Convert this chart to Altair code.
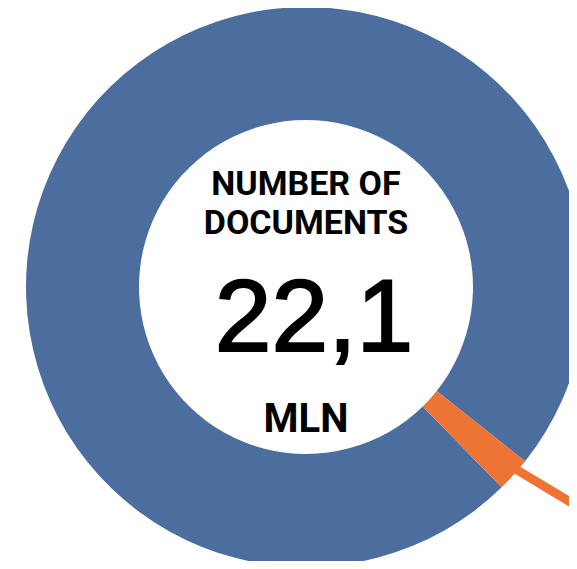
import math
import altair as alt
import pandas as pd

# ---- data ----
categories = ["Main", "Other"]
values = [21.66, 0.44]
colors = ["#4B6E9E", "#EE7436"]
order_idx = [1, 0]  # orange slice drawn first, starting at the start angle

title_lines = ["NUMBER OF", "DOCUMENTS"]
total_label = "22,1"
unit_label = "MLN"

# ---- layout ----
W, H = 561, 553
CX, CY = 298, 279
R_OUT, R_IN = 280, 167
START_DEG = 128.5

df = pd.DataFrame({"category": categories, "value": values, "order": order_idx})

theta_range = [math.radians(START_DEG), math.radians(START_DEG) + 2 * math.pi]

donut = alt.Chart(df).mark_arc(
    innerRadius=R_IN, outerRadius=R_OUT, stroke=None
).encode(
    theta=alt.Theta("value:Q", stack=True, scale=alt.Scale(range=theta_range)),
    color=alt.Color("category:N", scale=alt.Scale(domain=categories, range=colors), legend=None),
    order=alt.Order("order:Q"),
    x=alt.value(CX),
    y=alt.value(CY),
)

# leader line for the small slice, derived from its angle
total = sum(values)
small = values[1]
lead_deg = START_DEG + small / total * 360.0 * 0.35
ang = math.radians(lead_deg)
sx = CX + (R_OUT - 3) * math.sin(ang)
sy = CY - (R_OUT - 3) * math.cos(ang)
lead_len = 90
lead_ang = math.radians(31.0)
ldf = pd.DataFrame({
    "x": [sx], "y": [sy],
    "x2": [sx + lead_len * math.cos(lead_ang)],
    "y2": [sy + lead_len * math.sin(lead_ang)],
})
leader = alt.Chart(ldf).mark_rule(color=colors[1], strokeWidth=9, strokeCap="butt").encode(
    x=alt.X("x:Q", scale=None),
    y=alt.Y("y:Q", scale=None),
    x2="x2:Q",
    y2="y2:Q",
)

def label(text, dy, size, font, weight, dx=0, stroke_w=0):
    kw = {}
    if stroke_w:
        kw = {"stroke": "#000000", "strokeWidth": stroke_w}
    return alt.Chart(pd.DataFrame({"t": [text]})).mark_text(
        font=font, fontSize=size, fontWeight=weight, color="#000000",
        align="center", baseline="alphabetic", **kw,
    ).encode(text="t:N", x=alt.value(CX + dx), y=alt.value(CY + dy))

t1 = label(title_lines[0], -92, 34, "Roboto", "bold")
t2 = label(title_lines[1], -53, 34, "Roboto", "bold")
t3 = label(total_label, 64, 102, "Liberation Sans", "normal", dx=8, stroke_w=2)
t4 = label(unit_label, 145, 40, "Roboto", "bold")

chart = alt.layer(donut, leader, t1, t2, t3, t4).properties(
    width=W, height=H,
    autosize=alt.AutoSizeParams(type="none"),
    padding=0,
).configure_view(stroke=None)

chart.save("out.html", embed_options={"renderer": "svg", "actions": False})
